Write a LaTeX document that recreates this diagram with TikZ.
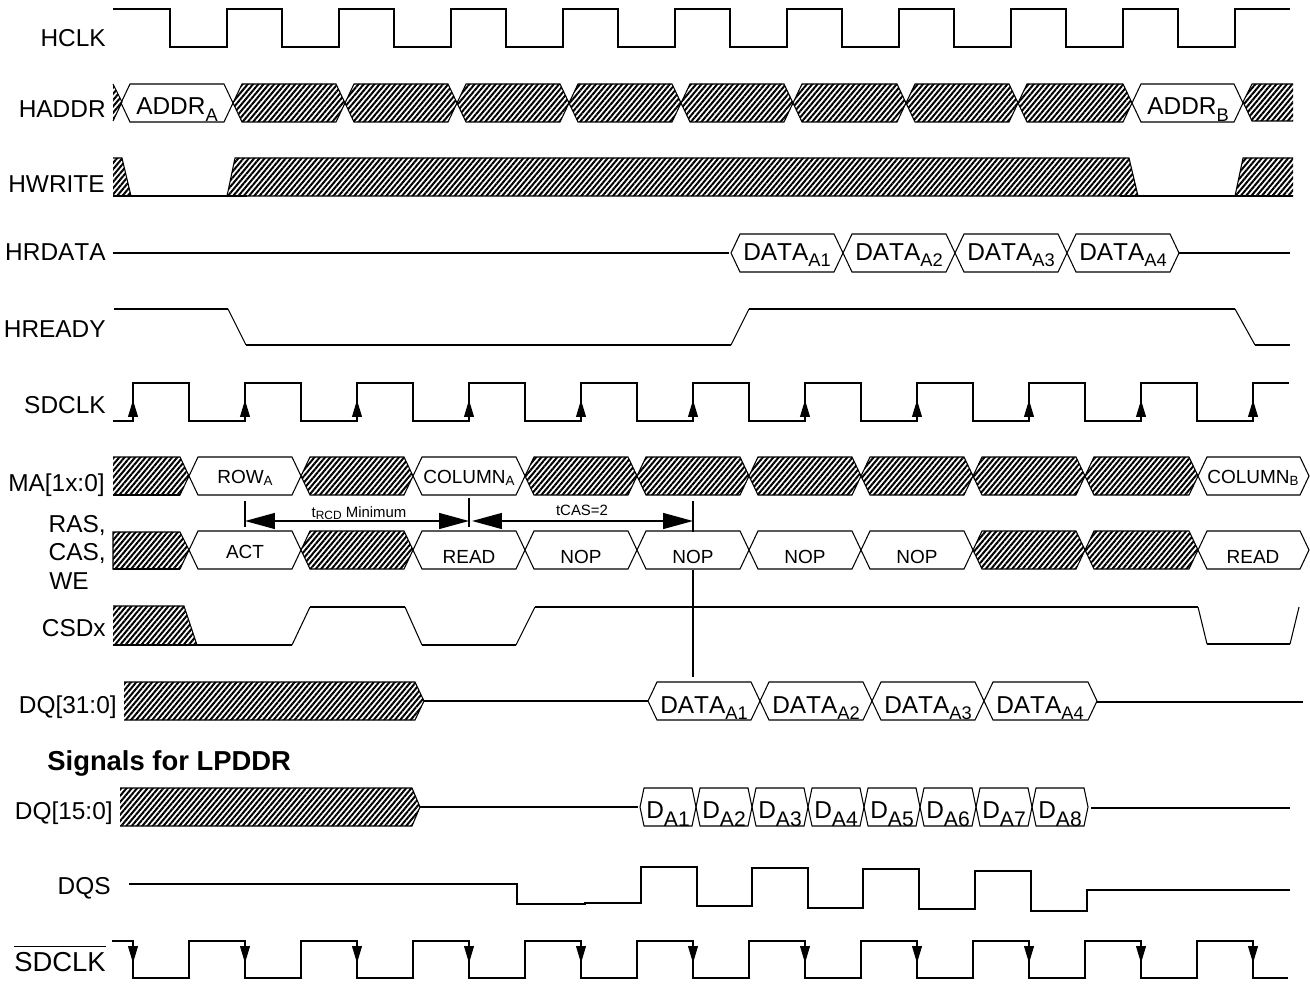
\documentclass[tikz,border=0pt]{standalone}
\usepackage{fontspec}
\setmainfont[Kerning=Off]{Liberation Sans}
\usetikzlibrary{arrows.meta,patterns.meta}
\newcommand{\bigtxt}{\fontsize{13.9}{16}\selectfont}
\newcommand{\midtxt}{\fontsize{10.8}{13}\selectfont}
\newcommand{\smalltxt}{\fontsize{8.5}{10}\selectfont}
\newcommand{\subbig}[1]{\raisebox{-3.6pt}{\fontsize{10.4}{12}\selectfont #1}}
\newcommand{\submid}[1]{\raisebox{-1.7pt}{\fontsize{7.6}{9}\selectfont #1}}
\newcommand{\subwide}[1]{\raisebox{-4.6pt}{\fontsize{12}{14}\selectfont #1}}
% bus cell: style, left x, right x, top y
\newcommand{\buscell}[4]{\draw[#1] (#2,#4+19) -- (#2+9,#4) -- (#3-9,#4) -- (#3,#4+19) -- (#3-9,#4+38) -- (#2+9,#4+38) -- cycle;}
\begin{document}
\begin{tikzpicture}[
    x=0.02cm, y=-0.02cm,
    sig/.style={line width=1.15pt},
    edge/.style={line width=0.6pt},
    bus/.style={line width=0.6pt},
    hatch/.style={line width=0.6pt, pattern={Lines[angle=50,distance=2.3pt,line width=1.15pt]}},
    siglabel/.style={anchor=base east, inner sep=0pt, font=\bigtxt},
    valbig/.style={anchor=base, inner sep=0pt, font=\bigtxt},
    valmid/.style={anchor=base, inner sep=0pt, font=\midtxt},
    note/.style={anchor=base, inner sep=0pt, font=\smalltxt},
    clkup/.style={-{Triangle[length=9.6pt,width=5.6pt]}, line width=0.6pt},
    span/.style={{Triangle[length=17pt,width=9pt]}-{Triangle[length=17pt,width=9pt]}, line width=1pt}
  ]
    \useasboundingbox (0,0) rectangle (1310,983);

    % Signal names
    \node[siglabel] (hclk) at (106,47) {HCLK};
    \node[siglabel] (haddr) at (106,118) {HADDR};
    \node[siglabel] (hwrite) at (105,193) {HWRITE};
    \node[siglabel] (hrdata) at (106,260) {HRDATA};
    \node[siglabel] (hready) at (106,337) {HREADY};
    \node[siglabel] (sdclk) at (106,413) {SDCLK};
    \node[siglabel] (ma) at (105,491) {MA[1x:0]};
    \node[siglabel] (ras) at (106,532) {RAS,};
    \node[siglabel] (cas) at (106,560) {CAS,};
    \node[siglabel, anchor=base west] (we) at (49,589) {WE};
    \node[siglabel] (csdx) at (106,636) {CSDx};
    \node[siglabel] (dqa) at (117,713) {DQ[31:0]};
    \node[siglabel, anchor=base west, font=\fontsize{15.6}{18}\selectfont\bfseries] (lpddr) at (47,770) {Signals for LPDDR};
    \node[siglabel] (dqb) at (113,819) {DQ[15:0]};
    \node[siglabel] (dqs) at (111,894) {DQS};
    \node[siglabel, font=\fontsize{15.6}{18}\selectfont] (sdclkn) at (106,971) {$\overline{\mbox{SDCLK\rule{0pt}{12.6pt}}}$};

    % HCLK
    \draw[sig] (113,9) foreach \x in {170,282,...,1178} { -- (\x,9) -- (\x,47) -- (\x+57,47) -- (\x+57,9) } -- (1290,9);

    % HADDR
    \draw[hatch] (113,84) -- (122,102) -- (113,121);
    \buscell{bus}{121}{233}{84}
    \foreach \a/\b in {233/345,345/457,457/569,569/681,681/793,793/906,906/1018,1018/1132}
      {\buscell{hatch}{\a}{\b}{84}}
    \buscell{bus}{1132}{1243}{84}
    \draw[hatch] (1293,84) -- (1252,84) -- (1243,102) -- (1252,121) -- (1293,121);
    \node[valbig] (addra) at (177,115) {ADDR\subbig{A}};
    \node[valbig] (addrb) at (1188,115) {ADDR\subbig{B}};

    % HWRITE
    \draw[hatch] (113,158) -- (122,158) -- (131,196) -- (113,196);
    \draw[hatch] (227,196) -- (235,158) -- (1129,158) -- (1138,196) -- cycle;
    \draw[hatch] (1293,158) -- (1243,158) -- (1235,196) -- (1293,196);
    \draw[sig] (113,196) -- (247,196);
    \draw[sig] (1120,196) -- (1293,196);

    % HRDATA
    \draw[sig] (113,253) -- (729,253);
    \foreach \a/\b in {731/843,843/955,955/1067,1067/1179}
      {\buscell{bus}{\a}{\b}{234}}
    \draw[sig] (1179,253) -- (1290,253);
    \node[valbig] (rda1) at (787,260) {DATA\subbig{A1}};
    \node[valbig] (rda2) at (899,260) {DATA\subbig{A2}};
    \node[valbig] (rda3) at (1011,260) {DATA\subbig{A3}};
    \node[valbig] (rda4) at (1123,260) {DATA\subbig{A4}};

    % HREADY
    \draw[sig] (114,309) -- (228,309);
    \draw[edge] (228,309) -- (246,345);
    \draw[sig] (246,345) -- (731,345);
    \draw[edge] (731,345) -- (749,309);
    \draw[sig] (749,309) -- (1235,309);
    \draw[edge] (1235,309) -- (1255,345);
    \draw[sig] (1255,345) -- (1290,345);

    % SDCLK
    \draw[sig] (113,421) foreach \x in {133,245,...,1141} { -- (\x,421) -- (\x,383) -- (\x+56,383) -- (\x+56,421) } -- (1253,421) -- (1253,383) -- (1289,383);
    \foreach \x in {133,245,...,1253}
      {\draw[clkup] (\x,417) -- (\x,400);}

    % MA[1x:0]
    \draw[hatch] (113,457) -- (180,457) -- (189,476) -- (180,495) -- (113,495);
    \draw[sig] (113,495) -- (180,495);
    \buscell{bus}{189}{301}{457}
    \buscell{hatch}{301}{413}{457}
    \buscell{bus}{413}{525}{457}
    \foreach \a/\b in {525/637,637/749,749/861,861/973,973/1085,1085/1198}
      {\buscell{hatch}{\a}{\b}{457}}
    \buscell{bus}{1198}{1309}{457}
    \node[valmid] (rowa) at (245,483) {ROW\submid{A}};
    \node[valmid] (cola) at (469,483) {COLUMN\submid{A}};
    \node[valmid] (colb) at (1253,483) {COLUMN\submid{B}};

    % Timing spans
    \coordinate (rcdt) at (245,501);
    \coordinate (rcdb) at (245,527);
    \coordinate (rdt) at (469,498);
    \coordinate (rdb) at (469,527);
    \coordinate (nopt) at (693,501);
    \coordinate (nopb) at (693,532);
    \coordinate (nopc) at (693,570);
    \coordinate (dqt) at (693,677);
    \coordinate (rcdl) at (245,521);
    \coordinate (rcdr) at (469,521);
    \coordinate (casl) at (472,521);
    \coordinate (casr) at (693,521);
    \draw[edge, line width=1pt] (rcdt) -- (rcdb);
    \draw[edge, line width=1pt] (rdt) -- (rdb);
    \draw[edge, line width=1pt] (nopt) -- (nopb);
    \draw[edge, line width=1pt] (nopc) -- (dqt);
    \draw[span] (rcdl) -- (rcdr);
    \draw[span] (casl) -- (casr);
    \node[note] (trcd) at (359,517) {t\raisebox{-1.3pt}{\fontsize{6.8}{8}\selectfont RCD} Minimum};
    \node[note] (tcas) at (582,515) {tCAS=2};

    % RAS, CAS, WE
    \draw[hatch] (113,532) -- (180,532) -- (189,550) -- (180,569) -- (113,569) -- cycle;
    \draw[sig] (113,569) -- (180,569);
    \buscell{bus}{189}{301}{531}
    \buscell{hatch}{301}{413}{531}
    \foreach \a/\b in {413/525,525/637,637/749,749/861,861/973}
      {\buscell{bus}{\a}{\b}{531}}
    \buscell{hatch}{973}{1085}{531}
    \buscell{hatch}{1085}{1198}{531}
    \buscell{bus}{1198}{1309}{531}
    \node[valmid] (act) at (245,558) {ACT};
    \node[valmid] (rdcmd) at (469,563) {READ};
    \node[valmid] (nopa) at (581,563) {NOP};
    \node[valmid] (nopd) at (693,563) {NOP};
    \node[valmid] (nope) at (805,563) {NOP};
    \node[valmid] (nopf) at (917,563) {NOP};
    \node[valmid] (rdcmdb) at (1253,563) {READ};

    % CSDx
    \draw[hatch] (113,606) -- (184,606) -- (197,645) -- (113,645);
    \draw[sig] (113,645) -- (292,645);
    \draw[edge] (292,645) -- (310,607);
    \draw[sig] (310,607) -- (405,607);
    \draw[edge] (405,607) -- (422,645);
    \draw[sig] (422,645) -- (516,645);
    \draw[edge] (516,645) -- (535,607);
    \draw[sig] (535,607) -- (1198,607);
    \draw[edge] (1198,607) -- (1207,644);
    \draw[sig] (1207,644) -- (1290,644);
    \draw[edge] (1290,644) -- (1299,607);

    % DQ[31:0]
    \draw[hatch] (124,682) -- (415,682) -- (424,701) -- (415,720) -- (124,720);
    \draw[sig] (424,701) -- (648,701);
    \foreach \a/\b in {648/760,760/872,872/984,984/1097}
      {\buscell{bus}{\a}{\b}{682}}
    \draw[sig] (1097,702) -- (1303,702);
    \node[valbig] (dqa1) at (704,713) {DATA\subbig{A1}};
    \node[valbig] (dqa2) at (816,713) {DATA\subbig{A2}};
    \node[valbig] (dqa3) at (928,713) {DATA\subbig{A3}};
    \node[valbig] (dqa4) at (1040,713) {DATA\subbig{A4}};

    % DQ[15:0]
    \draw[hatch] (120,788) -- (412,788) -- (420,807) -- (412,826) -- (120,826);
    \draw[sig] (420,807) -- (638,807);
    \foreach \a/\b [count=\i] in {640/696,696/752,752/808,808/864,864/920,920/976,976/1032,1032/1088}
      {\draw[bus] (\a,807) -- (\a+4,788) -- (\b-4,788) -- (\b,807) -- (\b-4,826) -- (\a+4,826) -- cycle;
       \node[valbig] (dqb\i) at (\a+28,818) {D\subwide{A\i}};}
    \draw[sig] (1091,808) -- (1290,808);

    % DQS
    \draw[sig] (129,884) -- (517,884) -- (517,904) -- (585,904) -- (585,903) -- (641,903) -- (641,867) -- (697,867) -- (697,906) -- (752,906) -- (752,868) -- (808,868) -- (808,908) -- (863,908) -- (863,869) -- (919,869) -- (919,909) -- (975,909) -- (975,871) -- (1031,871) -- (1031,911) -- (1087,911) -- (1087,890) -- (1290,890);

    % SDCLK inverted
    \draw[sig] (112,941) foreach \x in {133,245,...,1141} { -- (\x,941) -- (\x,978) -- (\x+56,978) -- (\x+56,941) } -- (1253,941) -- (1253,978) -- (1288,978);
    \foreach \x in {133,245,...,1253}
      {\draw[clkup] (\x,945) -- (\x,963);}
  \end{tikzpicture}
\end{document}
